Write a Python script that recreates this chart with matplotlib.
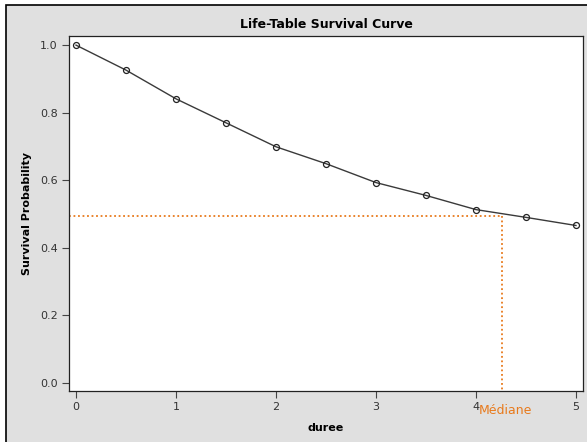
import matplotlib
matplotlib.use("Agg")
import matplotlib.pyplot as plt
from matplotlib.patches import Rectangle

matplotlib.rcParams["font.family"] = "DejaVu Sans"
matplotlib.rcParams["font.size"] = 8

# life-table estimates
duree = [0, 0.5, 1, 1.5, 2, 2.5, 3, 3.5, 4, 4.5, 5]
survie = [1.0, 0.926, 0.841, 0.770, 0.699, 0.649, 0.593, 0.555, 0.513, 0.490, 0.466]
mediane_x = 4.26
mediane_y = 0.495
xticks = [0, 1, 2, 3, 4, 5]
yticks = [0.0, 0.2, 0.4, 0.6, 0.8, 1.0]

fig = plt.figure(figsize=(5.87, 4.42), dpi=100)
fig.patch.set_facecolor("white")
# grey frame with a black edge on top and left
fig.patches.append(Rectangle((6 / 587, -0.05), 1.2, 1 - 5 / 442 + 0.05,
                             transform=fig.transFigure, facecolor="#e0e0e0",
                             edgecolor="black", linewidth=1.2, zorder=-10))

ax = fig.add_axes([69 / 587, 1 - 391 / 442, (583 - 69) / 587, (391 - 36) / 442])
ax.set_zorder(5)
ax.set_facecolor("white")

ax.plot(duree, survie, color="#3a3a3a", linewidth=1.0, marker="o", markersize=4.3,
        markerfacecolor="none", markeredgecolor="#222222", markeredgewidth=0.9)

orange = "#e87a1c"
ax.plot([-0.07, mediane_x], [mediane_y, mediane_y], color=orange, linestyle=(0, (1, 1.5)), linewidth=1.3)
ax.plot([mediane_x, mediane_x], [mediane_y, -0.024], color=orange, linestyle=(0, (1, 1.5)), linewidth=1.3)
ax.text(mediane_x + 0.03, -0.062, "Médiane", color=orange, fontsize=9, ha="center", va="top",
        transform=ax.transData, clip_on=False)

ax.set_xlim(-0.07, 5.07)
ax.set_ylim(-0.024, 1.027)
ax.set_xticks(xticks)
ax.set_xticklabels([str(t) for t in xticks])
ax.set_yticks(yticks)
ax.set_yticklabels(["%.1f" % t for t in yticks])
ax.tick_params(direction="out", length=5, width=0.8, colors="#444444", labelcolor="#333333", labelsize=8, pad=3)

for s in ax.spines.values():
    s.set_color("#222222")
    s.set_linewidth(0.9)

ax.set_title("Life-Table Survival Curve", fontsize=9, fontweight="bold", pad=6)
ax.set_xlabel("duree", fontsize=8, fontweight="bold", labelpad=8)
ax.set_ylabel("Survival Probability", fontsize=8, fontweight="bold", labelpad=6)

plt.savefig("out.png", dpi=100)
